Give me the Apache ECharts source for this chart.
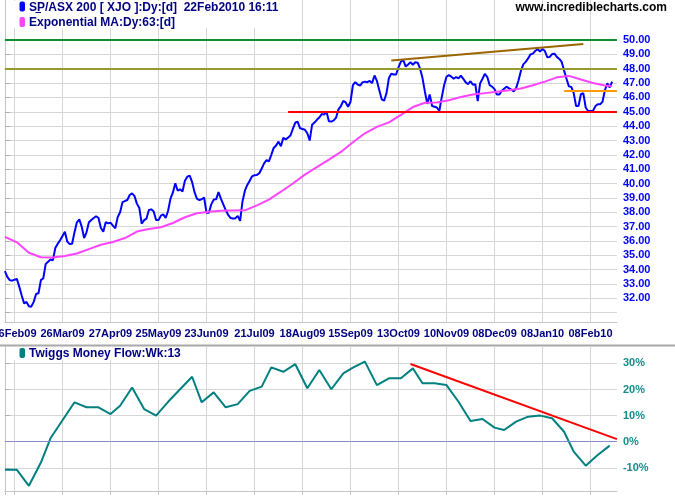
<!DOCTYPE html>
<html><head><meta charset="utf-8">
<script src="https://cdn.jsdelivr.net/npm/echarts@6/dist/echarts.min.js"></script>
<style>html,body{margin:0;padding:0;background:#fff}#c{width:675px;height:500px}</style>
</head><body><div id="c"></div>
<script>
// Daily closes (trading-day index 0..253), SP/ASX 200
const priceValues = [
33.9,33.5,33.27,33.23,33.3,33.35,32.8,32.2,31.65,31.75,
31.45,31.42,31.75,32.3,32.35,33.27,33.4,34.4,34.55,34.7,
34.65,35.5,35.8,36.05,36.35,36.64,35.95,35.78,35.8,36.6,
37.3,37.5,37.0,36.2,36.6,37.3,37.46,37.6,37.72,37.6,
36.9,36.64,37.3,37.23,37.27,37.07,36.88,37.66,38.0,38.7,
38.78,38.85,39.2,39.32,39.12,38.6,38.3,37.2,37.45,37.56,
38.15,38.2,38.05,37.46,37.45,37.76,37.85,37.6,38.1,38.95,
39.38,40.02,39.5,39.6,39.45,40.2,40.48,40.55,40.1,39.4,
38.95,38.85,38.9,39.03,37.97,37.97,38.55,38.88,38.9,39.4,
38.95,38.55,38.15,37.82,37.6,37.57,37.57,37.75,37.4,38.75,
39.5,39.9,40.2,40.5,40.58,40.6,40.72,41.05,41.4,41.63,
41.55,42.0,42.48,42.65,42.92,42.6,43.18,43.08,43.2,43.35,
43.82,44.25,44.3,43.85,43.8,43.75,43.5,43.0,44.1,44.25,
44.44,44.6,44.84,44.8,45.0,44.34,44.32,44.4,44.6,45.17,
45.4,45.76,45.65,45.35,45.7,46.85,47.06,46.9,46.83,47.05,
47.1,47.06,47.15,47.0,47.53,47.15,46.5,45.87,45.77,46.3,
47.35,47.65,47.6,47.6,48.1,48.5,48.6,48.15,48.3,48.45,
48.28,48.45,48.42,48.0,47.35,46.4,45.55,46.2,45.4,45.35,
45.3,45.05,46.0,46.85,47.44,47.55,47.45,47.3,47.42,47.33,
47.52,47.3,47.05,46.92,47.13,46.88,46.93,45.75,46.98,47.3,
47.65,47.42,46.85,46.75,46.58,46.2,46.2,46.45,46.6,46.75,
46.64,46.55,46.41,46.65,47.18,47.85,48.3,48.48,48.72,49.0,
49.05,49.25,49.36,49.2,49.38,49.23,48.8,48.82,49.02,49.05,
48.82,48.68,48.47,47.87,47.3,46.77,46.73,46.3,45.4,45.4,
46.22,46.3,45.3,45.05,45.05,45.05,45.38,45.53,45.52,45.7,
46.5,46.98,46.7,47.1
];
// Exponential MA (63 day), read at every 5th trading day
const maIdx = [0,5,10,15,20,25,30,35,40,45,50,55,60,65,70,75,80,85,90,95,100,105,110,115,120,125,130,135,140,145,150,155,160,165,170,175,180,185,190,195,200,205,210,215,220,225,230,235,240,245,250,253];
const maValues = [36.28,35.9,35.18,34.86,34.85,34.95,35.12,35.43,35.73,35.93,36.2,36.65,36.83,36.95,37.25,37.65,37.93,38.03,38.1,38.12,38.13,38.48,38.88,39.43,40.0,40.62,41.15,41.67,42.2,42.88,43.5,43.95,44.26,44.78,45.33,45.63,45.65,45.8,46.03,46.2,46.3,46.4,46.5,46.62,46.85,47.1,47.4,47.5,47.25,47.0,46.83,46.8];
// Twiggs Money Flow weekly (trading-day index of each week, value %)
const tmfIdx = [0,5,10,15,19,24,29,34,39,44,48,53,58,63,68,73,78,82,87,92,97,102,107,111,116,121,126,131,136,141,145,150,155,160,165,170,174,179,184,189,194,199,204,208,213,218,223,228,233,237,242,247,252];
const tmfValues = [-10.8,-10.8,-16.9,-8.0,1.3,8.2,15.1,13.2,13.2,10.6,13.8,20.8,12.5,10.0,15.3,20.1,24.9,15.1,18.9,13.2,14.4,19.5,21.1,28.5,26.8,29.7,20.5,27.5,20.1,26.2,28.4,30.7,21.7,24.3,24.3,28.1,22.4,22.4,21.7,15.3,7.9,8.7,5.4,4.5,7.7,9.6,10.0,9.0,3.8,-3.8,-9.2,-5.1,-1.5];
// Date axis (trading-day index)
const dayMax = 255;
const tickIdx = [4,24,44,64,84,104,124,144,164,184,204,224,244];
const tickLabels = ['26Feb09','26Mar09','27Apr09','25May09','23Jun09','21Jul09','18Aug09','15Sep09','13Oct09','10Nov09','08Dec09','08Jan10','08Feb10'];
const priceTicks = [31,32,33,34,35,36,37,38,39,40,41,42,43,44,45,46,47,48,49,50];
const priceLabels = [32,33,34,35,36,37,38,39,40,41,42,43,44,45,46,47,48,49,50];
const tmfTicks = [-10,0,10,20,30];
// Drawn annotation lines
const fullLevels = [50, 48];
const redSupport = [[118, 45.0], [255, 45.0]];
const orangeLevel = [[233, 46.45], [255, 46.45]];
const brownTrend = [[161, 48.58], [241, 49.72]];
const tmfTrend = [[169, 29.8], [255, 1.0]];

const FONT = '"Liberation Sans", Arial, sans-serif';
const gridColor = '#d6d6d6';
const axisColor = '#c4c4c4';
const vGrid = [0].concat(tickIdx);

const chart = echarts.init(document.getElementById('c'), null, {renderer: 'canvas'});
const seg = (pts, color) => [{coord: pts[0], lineStyle: {color: color, width: 2, type: 'solid', opacity: 1}}, {coord: pts[1]}];
const fullColors = ['#0a8f32', '#999933'];
const ml = {silent: true, symbol: 'none', label: {show: false}, animation: false, emphasis: {disabled: true}};
const split = {show: true, lineStyle: {color: gridColor, width: 1, type: 'solid'}};
const labelFor = (v) => { const k = tickIdx.indexOf(Math.round(Number(v))); return k < 0 ? '' : tickLabels[k]; };

chart.setOption({
  animation: false,
  backgroundColor: '#fff',
  grid: [
    {left: 4.9, right: 58.1, top: 0, bottom: 178, containLabel: false, outerBoundsMode: 'none'},
    {left: 4.9, right: 58.1, top: 347, bottom: 9, containLabel: false, outerBoundsMode: 'none'}
  ],
  xAxis: [
    {type: 'value', gridIndex: 0, min: 0, max: dayMax,
     axisLine: {show: true, onZero: false, lineStyle: {color: axisColor}},
     axisTick: {show: false, customValues: vGrid},
     axisLabel: {customValues: tickIdx, formatter: labelFor, showMinLabel: true, showMaxLabel: true,
       color: '#000080', fontWeight: 'bold', fontSize: 11, fontFamily: FONT, margin: 6, hideOverlap: false},
     splitLine: split, minorSplitLine: {show: false}},
    {type: 'value', gridIndex: 1, min: 0, max: dayMax,
     axisLine: {show: true, onZero: false, lineStyle: {color: axisColor}},
     axisTick: {show: true, customValues: vGrid, length: 4, lineStyle: {color: axisColor}},
     axisLabel: {show: false},
     splitLine: split, minorSplitLine: {show: false}}
  ],
  yAxis: [
    {type: 'value', gridIndex: 0, position: 'right', min: 30.35, max: 52.79,
     axisLine: {show: true, lineStyle: {color: axisColor}},
     axisTick: {show: true, customValues: priceTicks, length: 5, lineStyle: {color: '#b0b0b0'}},
     axisLabel: {customValues: priceLabels, formatter: (v) => Number(v).toFixed(2), color: '#0000ff',
       fontWeight: 'bold', fontSize: 11, fontFamily: FONT, margin: 6},
     splitLine: split},
    {type: 'value', gridIndex: 1, position: 'right', min: -18.9, max: 36.3,
     axisLine: {show: true, lineStyle: {color: axisColor}},
     axisTick: {show: true, customValues: tmfTicks, length: 5, lineStyle: {color: '#b0b0b0'}},
     axisLabel: {customValues: tmfTicks, formatter: (v) => Math.round(v) + '%', color: '#168c8c',
       fontWeight: 'bold', fontSize: 11, fontFamily: FONT, margin: 6},
     splitLine: split}
  ],
  series: [
    {name: 'SP/ASX 200', type: 'line', xAxisIndex: 0, yAxisIndex: 0,
     data: priceValues.map((v, i) => [i, v]),
     symbol: 'none', lineStyle: {color: '#0000ff', width: 2}, z: 3},
    {name: 'Exponential MA', type: 'line', xAxisIndex: 0, yAxisIndex: 0,
     data: maIdx.map((x, k) => [x, maValues[k]]),
     symbol: 'none', lineStyle: {color: '#ff44ff', width: 2}, z: 4,
     markLine: Object.assign({}, ml, {
       data: fullLevels.map((v, k) => ({yAxis: v, lineStyle: {color: fullColors[k], width: 2, type: 'solid', opacity: 1}}))
         .concat([seg(redSupport, '#ff0000'), seg(orangeLevel, '#ff9900'), seg(brownTrend, '#996600')])})},
    {name: 'Twiggs Money Flow', type: 'line', xAxisIndex: 1, yAxisIndex: 1,
     data: tmfIdx.map((x, k) => [x, tmfValues[k]]),
     symbol: 'none', lineStyle: {color: '#008080', width: 2}, z: 4,
     markLine: Object.assign({}, ml, {
       data: [{yAxis: 0, lineStyle: {color: '#8c8cc8', width: 1, type: 'solid', opacity: 1}}, seg(tmfTrend, '#ff0000')]})}
  ],
  graphic: [
    {type: 'rect', shape: {x: 6, y: 1, width: 250, height: 27}, style: {fill: '#fff'}, z: 100, silent: true},
    {type: 'rect', shape: {x: 19.5, y: 1.5, width: 5.5, height: 10, r: 2}, style: {fill: '#0000ff'}, z: 101},
    {type: 'text', x: 29, y: 7.5, z: 101, style: {text: 'SP/ASX 200 [ XJO ]:Dy:[d]  22Feb2010 16:11', font: 'bold 12px ' + FONT, fill: '#000080', verticalAlign: 'middle'}},
    {type: 'line', shape: {x1: 35.5, y1: 12.5, x2: 41, y2: 12.5}, style: {stroke: '#000080', lineWidth: 1}, z: 101},
    {type: 'rect', shape: {x: 19.5, y: 17, width: 5.5, height: 10, r: 2}, style: {fill: '#ff44ff'}, z: 101},
    {type: 'text', x: 29, y: 22.5, z: 101, style: {text: 'Exponential MA:Dy:63:[d]', font: 'bold 12px ' + FONT, fill: '#000080', verticalAlign: 'middle'}},
    {type: 'text', x: 667, y: 8, z: 101, style: {text: 'www.incrediblecharts.com', font: 'bold 12px ' + FONT, fill: '#000', align: 'right', verticalAlign: 'middle'}},
    {type: 'line', shape: {x1: 0, y1: 345.5, x2: 675, y2: 345.5}, style: {stroke: '#a8a8a8', lineWidth: 2}, z: 100},
    {type: 'rect', shape: {x: 6, y: 347, width: 170, height: 13}, style: {fill: '#fff'}, z: 100, silent: true},
    {type: 'rect', shape: {x: 19.5, y: 348, width: 5.5, height: 10, r: 2}, style: {fill: '#008080'}, z: 101},
    {type: 'text', x: 29, y: 354, z: 101, style: {text: 'Twiggs Money Flow:Wk:13', font: 'bold 12px ' + FONT, fill: '#000080', verticalAlign: 'middle'}}
  ]
});
</script>
</body></html>
